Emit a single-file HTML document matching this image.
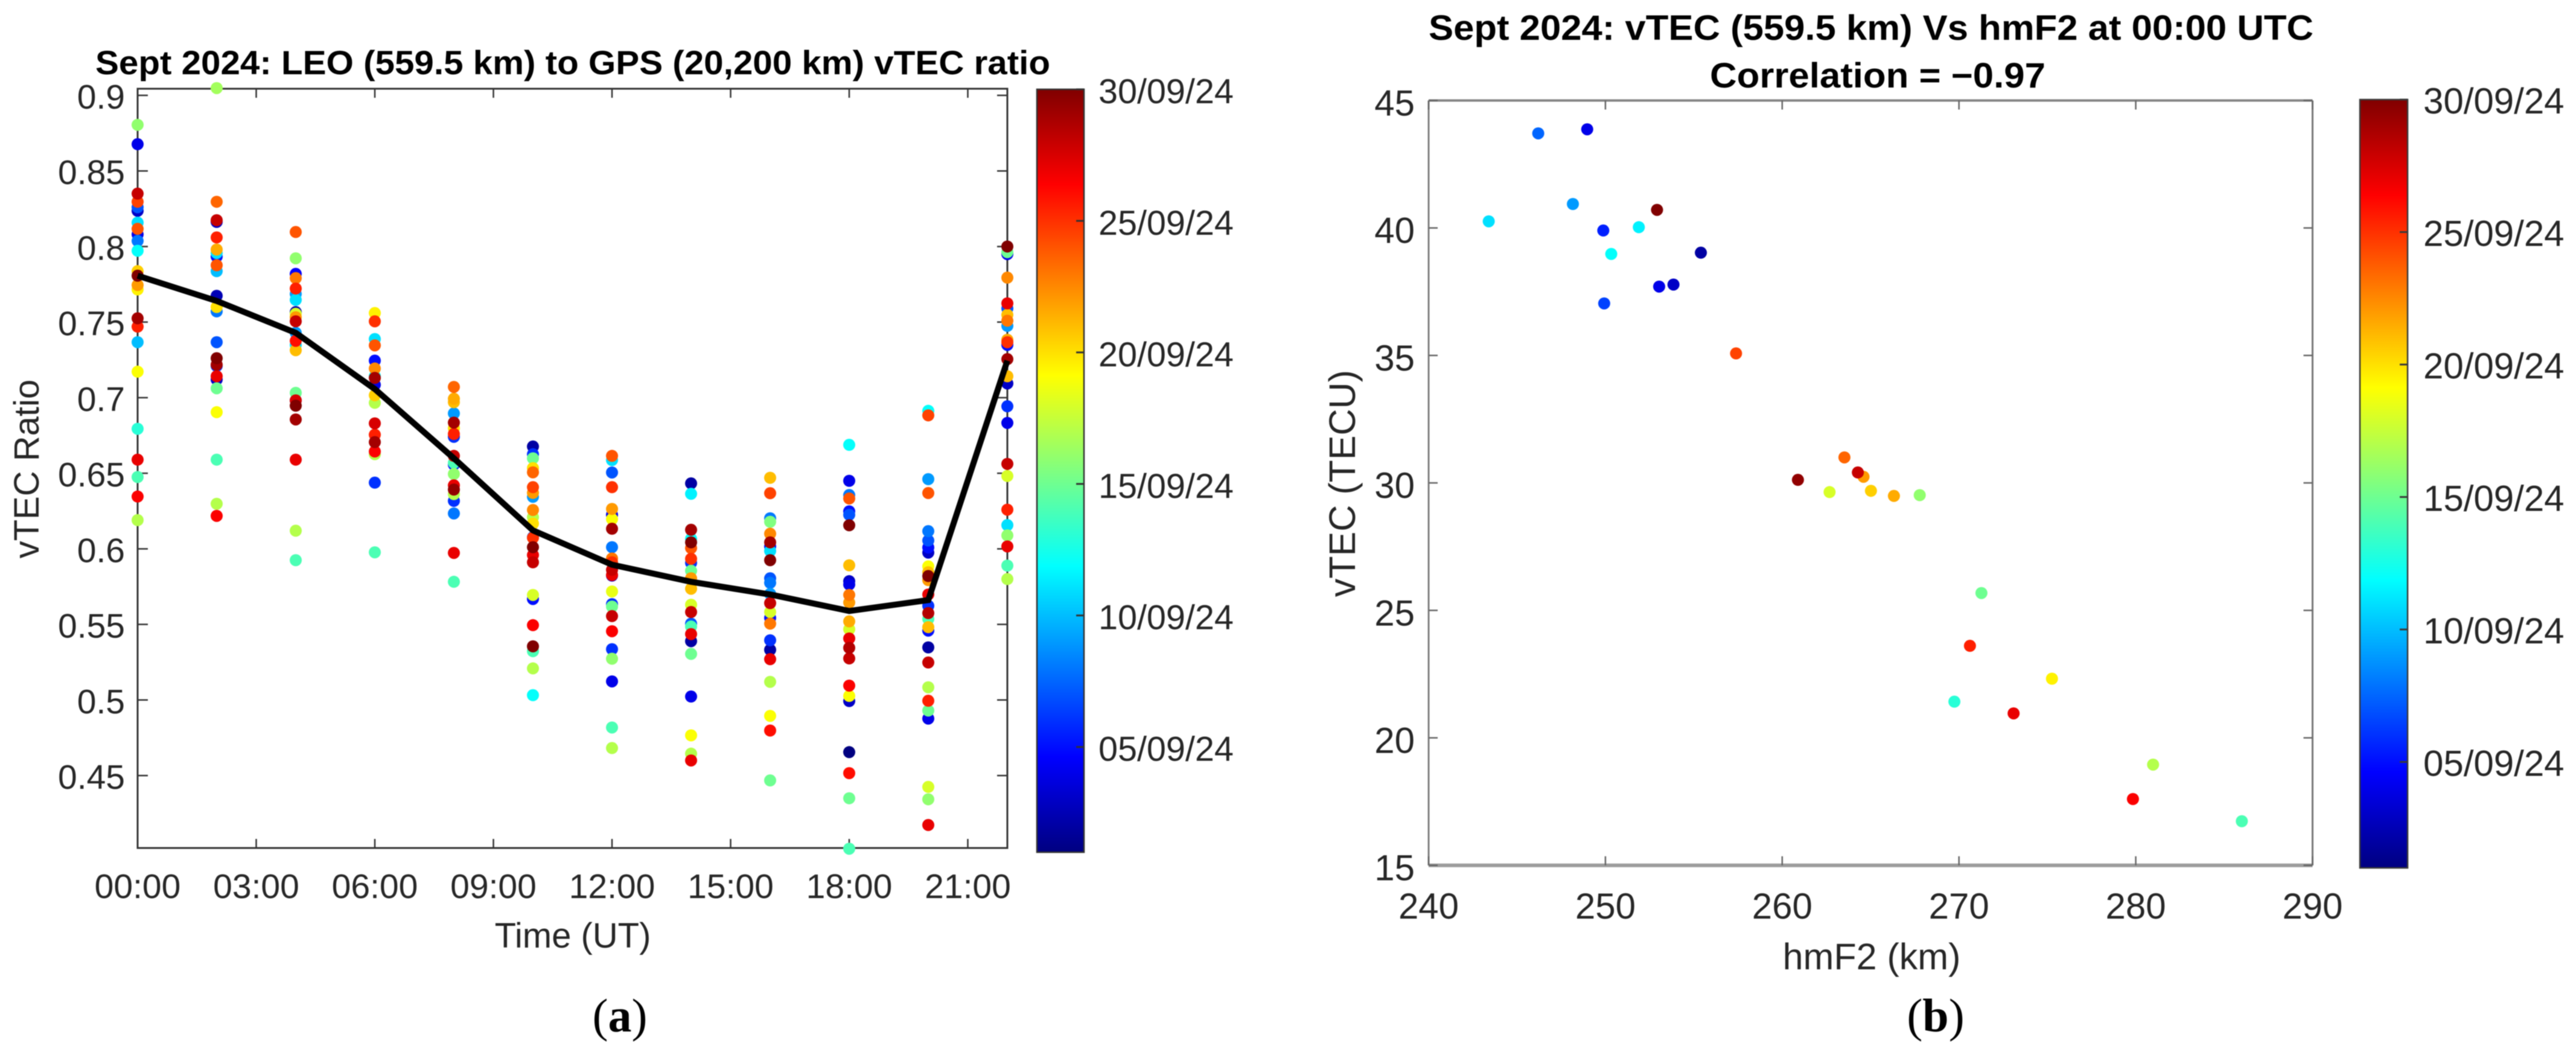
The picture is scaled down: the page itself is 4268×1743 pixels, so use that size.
<!DOCTYPE html>
<html lang="en">
<head>
<meta charset="utf-8">
<title>Sept 2024 vTEC charts</title>
<style>
html,body{margin:0;padding:0;background:#fff;width:4268px;height:1743px;overflow:hidden}
svg{display:block;filter:blur(0.9px)}
text{font-family:"Liberation Sans",sans-serif;fill:#262626}
.title{font-weight:700;fill:#000}
.cap{font-family:"Liberation Serif",serif;fill:#000}
</style>
</head>
<body>
<svg id="fig" xmlns="http://www.w3.org/2000/svg" width="4268" height="1743" viewBox="0 0 4268 1743">
  <defs>
    <linearGradient id="jetGrad" x1="0" y1="1" x2="0" y2="0">
      <stop offset="0" stop-color="rgb(0,0,128)"/>
      <stop offset="0.125" stop-color="rgb(0,0,255)"/>
      <stop offset="0.375" stop-color="rgb(0,255,255)"/>
      <stop offset="0.625" stop-color="rgb(255,255,0)"/>
      <stop offset="0.875" stop-color="rgb(255,0,0)"/>
      <stop offset="1" stop-color="rgb(128,0,0)"/>
    </linearGradient>
  </defs>
  <text class="title" x="158" y="123" font-size="56" textLength="1582" lengthAdjust="spacingAndGlyphs">Sept 2024: LEO (559.5 km) to GPS (20,200 km) vTEC ratio</text>
  <text x="949" y="1570" font-size="58" text-anchor="middle">Time (UT)</text>
  <text x="64" y="777" font-size="58" text-anchor="middle" transform="rotate(-90 64 777)">vTEC Ratio</text>
  <text class="cap" x="1027" y="1709" font-size="78" text-anchor="middle">(<tspan font-weight="700">a</tspan>)</text>

  <text class="title" x="2367" y="66" font-size="58" textLength="1466" lengthAdjust="spacingAndGlyphs">Sept 2024: vTEC (559.5 km) Vs hmF2 at 00:00 UTC</text>
  <text class="title" x="2833" y="145" font-size="58" textLength="556" lengthAdjust="spacingAndGlyphs">Correlation = −0.97</text>
  <text x="3101" y="1606" font-size="61" text-anchor="middle">hmF2 (km)</text>
  <text x="2245" y="801" font-size="61" text-anchor="middle" transform="rotate(-90 2245 801)">vTEC (TECU)</text>
  <text class="cap" x="3207" y="1709" font-size="78" text-anchor="middle">(<tspan font-weight="700">b</tspan>)</text>
</svg>
<script>
// ---- Chart (a) data: hour of observation, then ratio + day-of-month pairs for each hour ----
const hours = [0,2,4,6,8,10,12,14,16,18,20,22];
const meanRatio = [0.7807,0.764,0.7429,0.7057,0.6599,0.6122,0.5895,0.5782,0.5698,0.5589,0.5661,0.7245];

const ratio00 = [0.8805,0.8677,0.835,0.8296,0.826,0.8236,0.8158,0.8117,0.808,0.8037,0.7972,0.7837,0.7807,0.7745,0.7716,0.7525,0.747,0.7367,0.7172,0.6794,0.659,0.6475,0.6346,0.619];
const day00   = [16,4,28,24.5,7,3,11,24,4,8,12,20.5,30,22,19.5,29,25.5,10,19,13,27,14,26.5,17];
const ratio02 = [0.9048,0.8296,0.8163,0.8174,0.806,0.798,0.7957,0.7933,0.7876,0.7837,0.7674,0.76,0.7571,0.7367,0.7261,0.7218,0.721,0.712,0.7142,0.7062,0.6904,0.659,0.6298,0.6218];
const day02   = [16.5,23.5,3,28,25.5,21.5,11,5,24,10,2.5,20,8,7,30,29,6,3,27,15,19,14,17,26.5];
const ratio04 = [0.8096,0.7922,0.7819,0.7791,0.7722,0.7686,0.7647,0.7566,0.7555,0.7532,0.7505,0.7429,0.7349,0.7376,0.7314,0.7032,0.6982,0.6982,0.6947,0.6856,0.659,0.612,0.5925];
const day04   = [24,16,4.5,23,25.5,9,11,2,18,22,28,9,11,26,21,15,2,27.5,30,29,27,17,14];
const ratio06 = [0.756,0.7505,0.7388,0.7346,0.7245,0.7193,0.7142,0.7131,0.7085,0.7016,0.6966,0.683,0.6755,0.6706,0.6644,0.6626,0.6438,0.5977];
const day06   = [19.5,25,11,24,5,22.5,12,29,4,20.5,17,27.5,25.5,29,26.5,17,6,14];
const ratio08 = [0.7071,0.6993,0.697,0.6896,0.6835,0.6798,0.6741,0.676,0.6615,0.6569,0.6557,0.6495,0.642,0.6362,0.6392,0.6317,0.6234,0.5973,0.5782];
const day08   = [23.5,21.5,21,9,29,20,6,25.5,28,14,5,16,27,17,29.5,6,8,27,14];
const ratio10 = [0.6677,0.6626,0.6599,0.6534,0.6506,0.6408,0.637,0.6344,0.6257,0.6209,0.6167,0.6077,0.6073,0.6011,0.5959,0.5911,0.5695,0.5668,0.5495,0.5355,0.5323,0.5209,0.5032];
const day10   = [2,6,15,20,23.5,24.5,22,9,22.5,17,20,7,25,30,27,28,18,5,26.5,30,14,17,12];
const ratio12 = [0.6615,0.6587,0.6505,0.6408,0.6264,0.6225,0.6197,0.6133,0.6011,0.5936,0.5911,0.5861,0.5823,0.5827,0.5718,0.5634,0.5618,0.5555,0.5455,0.5336,0.5273,0.5123,0.4818,0.4682];
const day12   = [24,11,7,25,22,4,19,29,8,23,25,28,3,27,18.5,6,15,28,26.5,6,16,4,14,17];
const ratio14 = [0.6433,0.6364,0.6126,0.6066,0.6043,0.6005,0.5934,0.5907,0.5855,0.5805,0.5736,0.563,0.5582,0.5505,0.5486,0.5436,0.5389,0.5305,0.5023,0.4766,0.4645,0.46];
const day14   = [2,11.5,29,12,30,24,25,6,15,22,21,18,28,7,14,27,2,15,4,19,17,27];
const ratio16 = [0.647,0.6368,0.6202,0.6179,0.61,0.6043,0.6016,0.5986,0.5925,0.5805,0.5775,0.5702,0.5641,0.5582,0.5543,0.5505,0.5395,0.5332,0.527,0.512,0.4895,0.4798,0.4468];
const day16   = [21,24.5,8,15.5,22.5,29,5,11,30,7,8,9,28,18,5,23,6,2,27,17,19,26,15];
const ratio18 = [0.6688,0.645,0.6356,0.6333,0.6248,0.6225,0.6156,0.5891,0.5786,0.5764,0.5695,0.5645,0.552,0.5468,0.5407,0.5345,0.5275,0.5095,0.5027,0.4993,0.4655,0.4516,0.435,0.4016];
const day18   = [12,4,8,24,5,7,30,21,3,4,23,22,21.5,18,27,28.5,28,26.5,19,3,1,26,15,14];
const ratio20 = [0.6913,0.6883,0.6461,0.6369,0.6117,0.6055,0.6009,0.5975,0.5884,0.5845,0.582,0.5793,0.5698,0.5623,0.5575,0.5536,0.5482,0.5459,0.5348,0.5248,0.5084,0.4995,0.493,0.4877,0.4425,0.4343,0.4173];
const day20   = [12,24.5,9,24,8,7,5,3,19,21,30,22,27,6,28.5,14,21,5,2,28,17,25.5,15,4,18,16,27];
const ratio22 = [0.8,0.7963,0.795,0.7794,0.7624,0.759,0.7548,0.7509,0.7475,0.7383,0.7349,0.7367,0.7255,0.7142,0.7094,0.6943,0.6833,0.6562,0.6482,0.6259,0.6157,0.6089,0.6016,0.5889,0.58];
const day22   = [30,15,4,22.5,27,7,21,23,9,21.5,5,25,29,21,3,6,4,28,18,25.5,11,16,27,14,17];

const ratioByHour = [ratio00,ratio02,ratio04,ratio06,ratio08,ratio10,ratio12,ratio14,ratio16,ratio18,ratio20,ratio22];
const dayByHour   = [day00,day02,day04,day06,day08,day10,day12,day14,day16,day18,day20,day22];

const timeTickHours  = [0,3,6,9,12,15,18,21];
const timeTickLabels = ["00:00","03:00","06:00","09:00","12:00","15:00","18:00","21:00"];
const ratioTicks     = [0.45,0.5,0.55,0.6,0.65,0.7,0.75,0.8,0.85,0.9];
const ratioTickLabels= ["0.45","0.5","0.55","0.6","0.65","0.7","0.75","0.8","0.85","0.9"];

// ---- Chart (b) data ----
const hmF2Values = [246.2,248.97,248.16,243.4,252.92,249.88,251.89,250.33,255.4,253.04,253.85,249.93,257.39,263.52,264.6,264.28,260.89,262.68,265.02,266.32,267.78,271.27,270.62,269.74,275.26,273.09,280.98,279.84,286.0];
const vtecValues = [43.71,43.87,40.94,40.26,40.71,39.9,40.03,38.98,39.03,37.7,37.78,37.04,35.08,31.0,30.24,30.41,30.12,29.64,29.69,29.49,29.52,25.68,23.61,21.42,22.32,20.96,18.95,17.6,16.73];
const vtecDays   = [7.5,4,9,11,30,5.5,11.5,12,2,4,3,6.5,24.5,23.5,22,28,29.5,18,20.5,21.5,16,15,25.5,13,19.5,27,17,26.5,14];
const hmF2Ticks  = [240,250,260,270,280,290];
const hmF2TickLabels = ["240","250","260","270","280","290"];
const vtecTicks  = [15,20,25,30,35,40,45];
const vtecTickLabels = ["15","20","25","30","35","40","45"];

// ---- Colorbar data ----
const cbarTickDays   = [5,10,15,20,25,30];
const cbarTickLabels = ["05/09/24","10/09/24","15/09/24","20/09/24","25/09/24","30/09/24"];
const dayMin = 1;
const dayMax = 30;

// ---- Drawing ----
const svg = document.getElementById('fig');
const NS = 'http://www.w3.org/2000/svg';
function make(tag, attrs, parent){
  const e = document.createElementNS(NS, tag);
  for (const k in attrs) e.setAttribute(k, attrs[k]);
  (parent || svg).appendChild(e);
  return e;
}
function clamp01(v){ return Math.max(0, Math.min(1, v)); }
function jet(day){
  const t = clamp01((day - dayMin) / (dayMax - dayMin));
  const r = clamp01(Math.min(4*t - 1.5, -4*t + 4.5));
  const g = clamp01(Math.min(4*t - 0.5, -4*t + 3.5));
  const b = clamp01(Math.min(4*t + 0.5, -4*t + 2.5));
  return 'rgb(' + Math.round(r*255) + ',' + Math.round(g*255) + ',' + Math.round(b*255) + ')';
}
function linear(d0, d1, r0, r1){
  return function(v){ return r0 + (v - d0) * (r1 - r0) / (d1 - d0); };
}
function dot(cx, cy, day, r, parent){
  const c = make('circle', {cx: cx, cy: cy, r: r, fill: jet(day)}, parent);
  
  
  return c;
}
function tickLine(x1, y1, x2, y2, color, w, parent){
  const l = make('line', {x1: x1, y1: y1, x2: x2, y2: y2, stroke: color, 'stroke-width': w}, parent);
  
  
}
function tickText(x, y, str, size, anchor, parent){
  const t = make('text', {x: x, y: y, 'font-size': size, 'text-anchor': anchor}, parent);
  
  
  t.textContent = str;
}
function colorbar(box, labelX, size, labelDy, tickColor){
  const g = make('g', {});
  
  
  const sy = linear(dayMin, dayMax, box.bottom, box.top);
  const rect = make('rect', {x: box.left, y: box.top, width: box.right - box.left, height: box.bottom - box.top, fill: 'url(#jetGrad)', stroke: tickColor, 'stroke-width': 2.5}, g);
  
  
  cbarTickDays.forEach(function(d, i){
    tickLine(box.right - 13, sy(d), box.right, sy(d), tickColor, 3, g);
    tickText(labelX, sy(d) + labelDy, cbarTickLabels[i], size, 'start', g);
  });
}

// Chart (a)
(function(){
  const box = {left: 228, right: 1669, top: 147, bottom: 1405};
  const sx = linear(0, 22, box.left, box.right);
  const sy = linear(0.45, 0.9, 1285, 158);
  const axisColor = '#333333';
  const g = make('g', {});
  
  
  const frame = make('rect', {x: box.left, y: box.top, width: box.right - box.left, height: box.bottom - box.top, fill: 'none', stroke: axisColor, 'stroke-width': 3}, g);
  
  
  timeTickHours.forEach(function(h, i){
    tickLine(sx(h), box.bottom, sx(h), box.bottom - 15, axisColor, 2.5, g);
    tickLine(sx(h), box.top, sx(h), box.top + 15, axisColor, 2.5, g);
    tickText(sx(h), 1488, timeTickLabels[i], 57, 'middle', g);
  });
  ratioTicks.forEach(function(v, i){
    tickLine(box.left, sy(v), box.left + 17, sy(v), axisColor, 2.5, g);
    tickLine(box.right, sy(v), box.right - 17, sy(v), axisColor, 2.5, g);
    tickText(207, sy(v) + 22, ratioTickLabels[i], 57, 'end', g);
  });
  const dots = make('g', {}, g);
  
  
  const pts = [];
  hours.forEach(function(h, i){
    ratioByHour[i].forEach(function(v, j){
      pts.push({x: h, y: v, d: dayByHour[i][j]});
    });
  });
  pts.sort(function(a, b){ return a.d - b.d; });
  pts.forEach(function(p){ dot(sx(p.x), sy(p.y), p.d, 10, dots); });
  const line = make('polyline', {
    points: hours.map(function(h, i){ return sx(h) + ',' + sy(meanRatio[i]); }).join(' '),
    fill: 'none', stroke: '#000', 'stroke-width': 10, 'stroke-linejoin': 'miter'
  }, g);
  
  
  colorbar({left: 1718, right: 1796, top: 148, bottom: 1412}, 1820, 57.5, 23, '#333333');
})();

// Chart (b)
(function(){
  const box = {left: 2367, right: 3831.5, top: 166.5, bottom: 1433.7};
  const sx = linear(240, 290, box.left, box.right);
  const sy = linear(15, 45, box.bottom, box.top);
  const g = make('g', {});
  
  
  const edges = [
    [box.left, box.top, box.right, box.top, '#858585', 4],
    [box.left, box.bottom, box.right, box.bottom, '#9c9c9c', 6],
    [box.left, box.top, box.left, box.bottom, '#7f7f7f', 3],
    [box.right, box.top, box.right, box.bottom, '#757575', 3]
  ];
  edges.forEach(function(e){
    const l = make('line', {x1: e[0], y1: e[1], x2: e[2], y2: e[3], stroke: e[4], 'stroke-width': e[5]}, g);
    
    
  });
  hmF2Ticks.forEach(function(v, i){
    tickLine(sx(v), box.bottom, sx(v), box.bottom - 15, '#666666', 2.5, g);
    tickLine(sx(v), box.top, sx(v), box.top + 15, '#666666', 2.5, g);
    tickText(sx(v), 1522, hmF2TickLabels[i], 60, 'middle', g);
  });
  vtecTicks.forEach(function(v, i){
    tickLine(box.left, sy(v), box.left + 15, sy(v), '#666666', 2.5, g);
    tickLine(box.right, sy(v), box.right - 15, sy(v), '#666666', 2.5, g);
    tickText(2344, sy(v) + 25, vtecTickLabels[i], 60, 'end', g);
  });
  const dots = make('g', {}, g);
  
  
  hmF2Values.forEach(function(x, i){
    dot(sx(x), sy(vtecValues[i]), vtecDays[i], 10, dots);
  });
  colorbar({left: 3910, right: 3989, top: 165, bottom: 1438}, 4015, 60, 23, '#3a3a3a');
})();
</script>
</body>
</html>
